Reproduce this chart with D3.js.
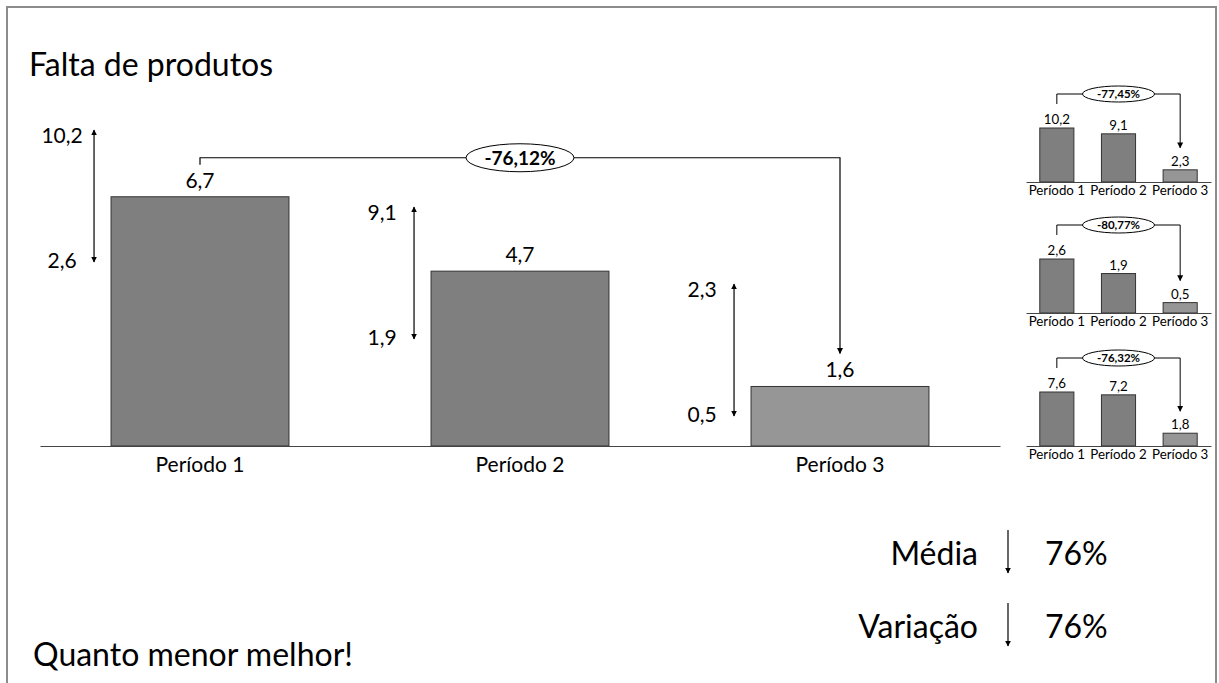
<!DOCTYPE html>
<html>
<head>
<meta charset="utf-8">
<script src="https://cdn.jsdelivr.net/npm/d3@7"></script>
<style>
  html, body { margin: 0; padding: 0; background: #fff; }
  svg { display: block; }
  text { font-family: Lato, "Noto Sans", sans-serif; fill: #000; }
</style>
</head>
<body>
<svg id="chart" width="1219" height="683"></svg>
<script>
// ---- data ----
const categories = ["Período 1", "Período 2", "Período 3"];
const mainValues = [6.7, 4.7, 1.6];
const rangeMax = [10.2, 9.1, 2.3];
const rangeMin = [2.6, 1.9, 0.5];
const mainChange = -76.12;

const miniMax = [10.2, 9.1, 2.3];
const miniMin = [2.6, 1.9, 0.5];
const miniOther = [7.6, 7.2, 1.8];
const miniChanges = [-77.45, -80.77, -76.32];

const summaryLabels = ["Média", "Variação"];
const summaryValues = ["76%", "76%"];

const title = "Falta de produtos";
const footnote = "Quanto menor melhor!";

// ---- helpers ----
const fmt1 = v => d3.format(".1f")(v).replace(".", ",");
const fmtPct = v => d3.format(".2f")(v).replace(".", ",").replace("\u2212", "-") + "%";
const fillFor = i => i === 2 ? "#969696" : "#7f7f7f";

const svg = d3.select("#chart");
const defs = svg.append("defs");
defs.append("marker")
  .attr("id", "head")
  .attr("viewBox", "0 0 10 10")
  .attr("refX", 9).attr("refY", 5)
  .attr("markerWidth", 6).attr("markerHeight", 7)
  .attr("markerUnits", "userSpaceOnUse")
  .attr("orient", "auto-start-reverse")
  .append("path").attr("d", "M0,0 L10,5 L0,10 Z").attr("fill", "#000");

// frame
svg.append("rect")
  .attr("x", 7).attr("y", 7).attr("width", 1209).attr("height", 700)
  .attr("fill", "none").attr("stroke", "#8c8c8c").attr("stroke-width", 2);

// title
svg.append("text").attr("x", 29).attr("y", 76)
  .attr("font-size", 32).text(title);

// ---- main chart ----
const x = d3.scaleBand().domain(categories).range([40, 1000])
  .paddingInner(0.444).paddingOuter(0.222);
const y = d3.scaleLinear().domain([0, 10]).range([446, 74]);

const main = svg.append("g");
main.selectAll("rect.bar").data(mainValues).join("rect")
  .attr("class", "bar")
  .attr("x", (d, i) => x(categories[i]))
  .attr("y", d => y(d))
  .attr("width", x.bandwidth())
  .attr("height", d => y(0) - y(d))
  .attr("fill", (d, i) => fillFor(i))
  .attr("stroke", "#333").attr("stroke-width", 1);

// baseline + category labels
const xAxis = d3.axisBottom(x).tickSize(0).tickPadding(11);
const gx = main.append("g").attr("transform", `translate(0,${y(0)})`).call(xAxis);
gx.select(".domain").attr("stroke", "#444").attr("stroke-width", 1.2);
gx.selectAll(".tick text").attr("font-size", 21).attr("font-family", "Lato, sans-serif").attr("fill", "#000");

// value labels
main.selectAll("text.val").data(mainValues).join("text")
  .attr("class", "val")
  .attr("x", (d, i) => x(categories[i]) + x.bandwidth() / 2)
  .attr("y", d => y(d) - 9)
  .attr("text-anchor", "middle").attr("font-size", 21)
  .text(d => fmt1(d));

// range arrows (max / min) beside each bar
categories.forEach((c, i) => {
  const ax = x(c) - 17;
  const top = 130 + i * 77;
  const bot = top + 132;
  main.append("line")
    .attr("x1", ax).attr("x2", ax).attr("y1", top).attr("y2", bot)
    .attr("stroke", "#000").attr("stroke-width", 1.2)
    .attr("marker-start", "url(#head)").attr("marker-end", "url(#head)");
  main.append("text").attr("x", ax - 32).attr("y", top + 13)
    .attr("text-anchor", "middle").attr("font-size", 21).text(fmt1(rangeMax[i]));
  main.append("text").attr("x", ax - 32).attr("y", bot + 6)
    .attr("text-anchor", "middle").attr("font-size", 21).text(fmt1(rangeMin[i]));
});

// change connector
function connector(g, xs, yStart, yLine, yEnd, cx, rx, ry, label, fs, sw) {
  g.append("path")
    .attr("d", `M${xs[0]},${yStart} V${yLine} H${xs[1]} V${yEnd}`)
    .attr("fill", "none").attr("stroke", "#000").attr("stroke-width", sw)
    .attr("marker-end", "url(#head)");
  g.append("ellipse").attr("cx", cx).attr("cy", yLine).attr("rx", rx).attr("ry", ry)
    .attr("fill", "#fff").attr("stroke", "#000").attr("stroke-width", 1);
  g.append("text").attr("x", cx).attr("y", yLine).attr("dy", "0.36em")
    .attr("text-anchor", "middle").attr("font-weight", "bold").attr("font-size", fs)
    .text(label);
}
const c1 = x(categories[0]) + x.bandwidth() / 2;
const c2 = x(categories[1]) + x.bandwidth() / 2;
const c3 = x(categories[2]) + x.bandwidth() / 2;
connector(main, [c1, c3], y(mainValues[0]) - 32, y(mainValues[0]) - 39,
  y(mainValues[2]) - 33, c2, 54, 14, fmtPct(mainChange), 19, 1.2);

// ---- small multiples ----
const miniSeries = [miniMax, miniMin, miniOther];
const miniBase = [182, 313, 446];
const xm = d3.scaleBand().domain(categories).range([1026, 1211])
  .paddingInner(0.447).paddingOuter(0.2235);

miniSeries.forEach((vals, k) => {
  const base = miniBase[k];
  const ym = d3.scaleLinear().domain([0, d3.max(vals)]).range([base, base - 54]);
  const g = svg.append("g");
  g.selectAll("rect").data(vals).join("rect")
    .attr("x", (d, i) => xm(categories[i]))
    .attr("y", d => ym(d))
    .attr("width", xm.bandwidth())
    .attr("height", d => ym(0) - ym(d))
    .attr("fill", (d, i) => fillFor(i))
    .attr("stroke", "#333").attr("stroke-width", 1);
  const ax = d3.axisBottom(xm).tickSize(0).tickPadding(4);
  const gx2 = g.append("g").attr("transform", `translate(0,${base})`).call(ax);
  gx2.select(".domain").attr("stroke", "#444").attr("stroke-width", 1);
  gx2.selectAll(".tick text").attr("font-size", 13.3).attr("font-family", "Lato, sans-serif").attr("fill", "#000");
  g.selectAll("text.v").data(vals).join("text").attr("class", "v")
    .attr("x", (d, i) => xm(categories[i]) + xm.bandwidth() / 2)
    .attr("y", d => ym(d) - 4)
    .attr("text-anchor", "middle").attr("font-size", 13.3)
    .text(d => fmt1(d));
  const m1 = xm(categories[0]) + xm.bandwidth() / 2;
  const m2 = xm(categories[1]) + xm.bandwidth() / 2;
  const m3 = xm(categories[2]) + xm.bandwidth() / 2;
  connector(g, [m1, m3], ym(vals[0]) - 24, ym(d3.max(vals)) - 34, ym(vals[2]) - 22,
    m2, 36, 8, fmtPct(miniChanges[k]), 11.5, 1);
});

// ---- summary ----
const sy = [565, 638];
summaryLabels.forEach((lab, i) => {
  svg.append("text").attr("x", 978).attr("y", sy[i])
    .attr("text-anchor", "end").attr("font-size", 32).text(lab);
  svg.append("line").attr("x1", 1008).attr("x2", 1008)
    .attr("y1", sy[i] - 35).attr("y2", sy[i] + 8)
    .attr("stroke", "#000").attr("stroke-width", 1.2)
    .attr("marker-end", "url(#head)");
  svg.append("text").attr("x", 1045).attr("y", sy[i])
    .attr("font-size", 32).text(summaryValues[i]);
});

svg.append("text").attr("x", 33).attr("y", 666)
  .attr("font-size", 32).text(footnote);
</script>
</body>
</html>
